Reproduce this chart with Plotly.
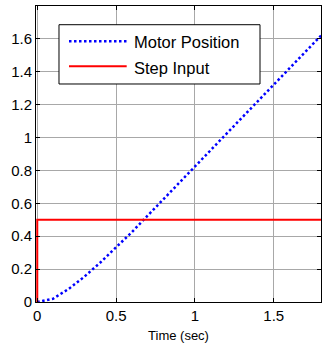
import plotly.graph_objects as go

# Data
time_s = [0.0, 0.1, 0.2, 0.3, 0.4, 0.5, 0.6, 0.7, 0.8, 0.9, 1.0,
          1.1, 1.2, 1.3, 1.4, 1.5, 1.6, 1.7, 1.8]
motor_position = [0.0, 0.02, 0.08, 0.155, 0.24, 0.33, 0.425, 0.525, 0.625,
                  0.725, 0.82, 0.92, 1.02, 1.12, 1.22, 1.32, 1.42, 1.52, 1.62]
step_time = [0.0, 0.0, 1.8]
step_value = [0.0, 0.5, 0.5]

series_names = ["Motor Position", "Step Input"]
x_ticks = [0, 0.5, 1, 1.5]
x_tick_labels = ["0", "0.5", "1", "1.5"]
y_ticks = [0, 0.2, 0.4, 0.6, 0.8, 1.0, 1.2, 1.4, 1.6]
y_tick_labels = ["0", "0.2", "0.4", "0.6", "0.8", "1", "1.2", "1.4", "1.6"]

FONT = "Liberation Sans, Arial, sans-serif"
BLUE_LINE = dict(color="#0000ff", width=2.5, dash="2.5px,2.5px")
RED_LINE = dict(color="#ff0000", width=2)

fig = go.Figure()
fig.add_trace(go.Scatter(
    x=time_s, y=motor_position, mode="lines", name=series_names[0],
    line=BLUE_LINE, showlegend=False,
))
fig.add_trace(go.Scatter(
    x=step_time, y=step_value, mode="lines", name=series_names[1],
    line=RED_LINE, showlegend=False,
))

axis_common = dict(
    showline=True, linecolor="black", linewidth=1, mirror="allticks",
    ticks="inside", ticklen=4, tickcolor="black",
    showgrid=True, gridcolor="#a8a8a8", gridwidth=1,
    zeroline=False,
    tickfont=dict(family=FONT, size=15, color="black"),
)

fig.update_xaxes(
    range=[-0.008, 1.8], tickvals=x_ticks, ticktext=x_tick_labels,
    title=dict(text="Time (sec)", font=dict(family=FONT, size=13, color="black"), standoff=7),
    **axis_common,
)
fig.update_yaxes(
    range=[0, 1.8], tickvals=y_ticks, ticktext=y_tick_labels,
    **axis_common,
)

# Legend box (MATLAB style) drawn in paper coordinates
leg_x0, leg_x1 = 0.0807, 0.786
leg_y0, leg_y1 = 0.7365, 0.9368
sample_x0, sample_x1 = 0.1158, 0.3182
row_line_y = [0.8807, 0.7963]
row_text_y = [0.880, 0.7922]
text_x = 0.337

fig.add_shape(type="rect", xref="paper", yref="paper",
              x0=leg_x0, x1=leg_x1, y0=leg_y0, y1=leg_y1,
              line=dict(color="black", width=1), fillcolor="white", layer="above")
for name, line_style, ly, ty in zip(series_names, [BLUE_LINE, RED_LINE], row_line_y, row_text_y):
    fig.add_shape(type="line", xref="paper", yref="paper",
                  x0=sample_x0, x1=sample_x1, y0=ly, y1=ly,
                  line=line_style, layer="above")
    fig.add_annotation(xref="paper", yref="paper", x=text_x, y=ty,
                       text=name, showarrow=False, xanchor="left", yanchor="middle",
                       font=dict(family=FONT, size=16.5, color="black"))

fig.update_layout(
    width=323, height=347,
    margin=dict(l=36, r=2, t=6, b=45),
    paper_bgcolor="white", plot_bgcolor="white",
    showlegend=False,
)

fig.write_html("out.html")
